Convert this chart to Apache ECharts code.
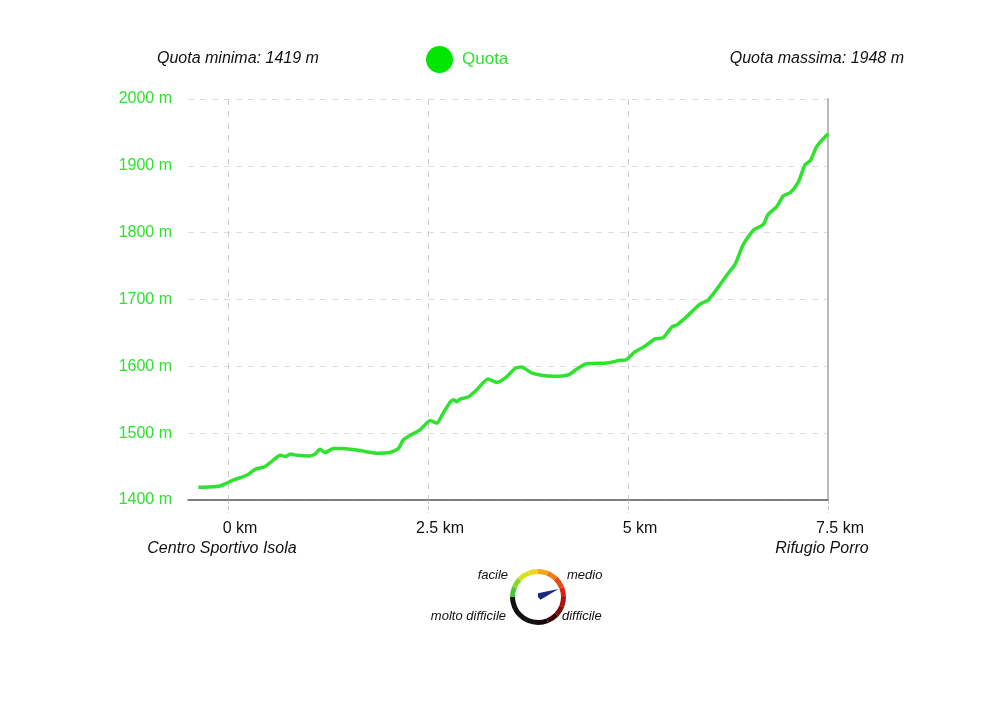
<!DOCTYPE html>
<html>
<head>
<meta charset="utf-8">
<script src="https://cdn.jsdelivr.net/npm/echarts@6/dist/echarts.min.js"></script>
<style>html,body{margin:0;padding:0;background:#fff}#c{width:1000px;height:706px}</style>
</head>
<body>
<div id="c"></div>
<script>
var distanceKm = [-0.37,-0.18,-0.1,-0.02,0.07,0.19,0.25,0.34,0.46,0.57,0.65,0.72,0.78,0.86,1.02,1.09,1.15,1.21,1.32,1.44,1.65,1.86,2.02,2.13,2.19,2.28,2.4,2.53,2.61,2.69,2.78,2.82,2.86,2.9,3.0,3.11,3.25,3.36,3.48,3.59,3.67,3.78,3.9,4.07,4.25,4.36,4.48,4.73,4.9,4.98,5.09,5.21,5.34,5.44,5.55,5.61,5.73,5.9,6.0,6.15,6.25,6.34,6.44,6.57,6.69,6.75,6.86,6.94,7.03,7.13,7.21,7.28,7.36,7.5];
var elevationM = [1419,1420,1421,1425,1430,1435,1438,1446,1450,1460,1467,1465,1469,1467,1466,1469,1476,1471,1477,1477,1474,1470,1471,1477,1490,1497,1505,1519,1515,1530,1547,1550,1547,1551,1554,1565,1581,1576,1584,1597,1599,1591,1587,1585,1587,1596,1604,1605,1609,1610,1622,1630,1641,1643,1659,1662,1674,1693,1699,1722,1739,1753,1782,1804,1812,1827,1839,1855,1860,1876,1901,1908,1929,1948];
var xTickValues = [0, 2.5, 5, 7.5];
var xTickNames = {0: 'Centro Sportivo Isola', 7.5: 'Rifugio Porro'};
var seriesName = 'Quota';
var minText = 'Quota minima: 1419 m';
var maxText = 'Quota massima: 1948 m';
var difficultyValue = 44;
var difficultyLabels = ['facile', 'medio', 'molto difficile', 'difficile'];

var FONT = '"Liberation Sans", Arial, sans-serif';
var GREEN = '#2fe22f';
var chart = echarts.init(document.getElementById('c'));
var lineData = distanceKm.map(function (d, i) { return [d, elevationM[i]]; });

chart.setOption({
  animation: false,
  backgroundColor: '#fff',
  legend: {
    data: [seriesName],
    left: 421, top: 41,
    icon: 'circle', itemWidth: 27, itemHeight: 27, itemGap: 12,
    textStyle: { color: GREEN, fontSize: 17, fontFamily: FONT, padding: [0, 0, 0, 4] }
  },
  grid: { left: 188, right: 172, top: 99, bottom: 206 },
  xAxis: {
    type: 'value', min: -0.5, max: 7.5,
    axisLine: { show: true, lineStyle: { color: '#555', width: 1.5 } },
    axisTick: { show: true, length: 13, customValues: xTickValues, lineStyle: { color: '#ccc', type: 'dashed' } },
    splitLine: { show: true, lineStyle: { color: '#ccc', type: [6, 6] } },
    axisLabel: {
      customValues: xTickValues, margin: 19,
      formatter: function (v) {
        var t = '{a|' + String(v) + ' km}';
        if (xTickNames[v] !== undefined) t += '\n{b|' + xTickNames[v] + '}';
        return t;
      },
      rich: {
        a: { fontSize: 16, color: '#111', fontFamily: FONT, lineHeight: 20, padding: [0, 0, 0, 24] },
        b: { fontSize: 16, color: '#111', fontFamily: FONT, fontStyle: 'italic', lineHeight: 20, padding: [0, 12, 0, 0] }
      }
    }
  },
  yAxis: [{
    type: 'value', min: 1400, max: 2000, interval: 100,
    axisLine: { show: false }, axisTick: { show: false },
    splitLine: { show: true, lineStyle: { color: '#ddd', type: [6, 6] } },
    axisLabel: { formatter: function (v) { return v + ' m'; }, color: GREEN, fontSize: 16, fontFamily: FONT, margin: 16 }
  }, {
    type: 'value', min: 1400, max: 2000, position: 'right',
    axisLine: { show: true, lineStyle: { color: '#bbb', width: 2 } },
    axisTick: { show: false }, axisLabel: { show: false }, splitLine: { show: false }
  }],
  graphic: [
    { type: 'text', left: 157, top: 51, style: { text: minText, font: 'italic 16px ' + FONT, fill: '#111' } },
    { type: 'text', right: 96, top: 51, style: { text: maxText, font: 'italic 16px ' + FONT, fill: '#111' } },
    { type: 'text', right: 1000 - 508, top: 569, style: { text: difficultyLabels[0], font: 'italic 13px ' + FONT, fill: '#111' } },
    { type: 'text', left: 567, top: 569, style: { text: difficultyLabels[1], font: 'italic 13px ' + FONT, fill: '#111' } },
    { type: 'text', right: 1000 - 506, top: 610, style: { text: difficultyLabels[2], font: 'italic 13px ' + FONT, fill: '#111' } },
    { type: 'text', left: 562, top: 610, style: { text: difficultyLabels[3], font: 'italic 13px ' + FONT, fill: '#111' } }
  ],
  series: [{
    name: seriesName, type: 'line', data: lineData,
    showSymbol: false, smooth: 0.2,
    lineStyle: { color: GREEN, width: 3.5 },
    itemStyle: { color: '#00e600' }
  }, {
    type: 'gauge', center: [538, 597], radius: 28,
    startAngle: 180, endAngle: -180, min: 0, max: 100,
    axisLine: { lineStyle: { width: 5, color: [
      [0.06, '#44c83a'], [0.12, '#88d82a'], [0.19, '#d8e020'], [0.25, '#f2d41a'],
      [0.31, '#f4a818'], [0.37, '#f27a16'], [0.44, '#ea4a14'], [0.5, '#dc2014'],
      [0.56, '#b01010'], [0.62, '#7a0c0c'], [0.69, '#3c0808'], [0.75, '#140404'],
      [1, '#111111']
    ] } },
    splitLine: { show: false }, axisTick: { show: false }, axisLabel: { show: false },
    pointer: { icon: 'path://M5,0 L10,100 L5,106 L0,100 Z', length: 22, width: 7, offsetCenter: [0, 0], itemStyle: { color: '#1a2a80' } },
    anchor: { show: false },
    title: { show: false }, detail: { show: false },
    data: [{ value: difficultyValue }]
  }]
});
</script>
</body>
</html>
